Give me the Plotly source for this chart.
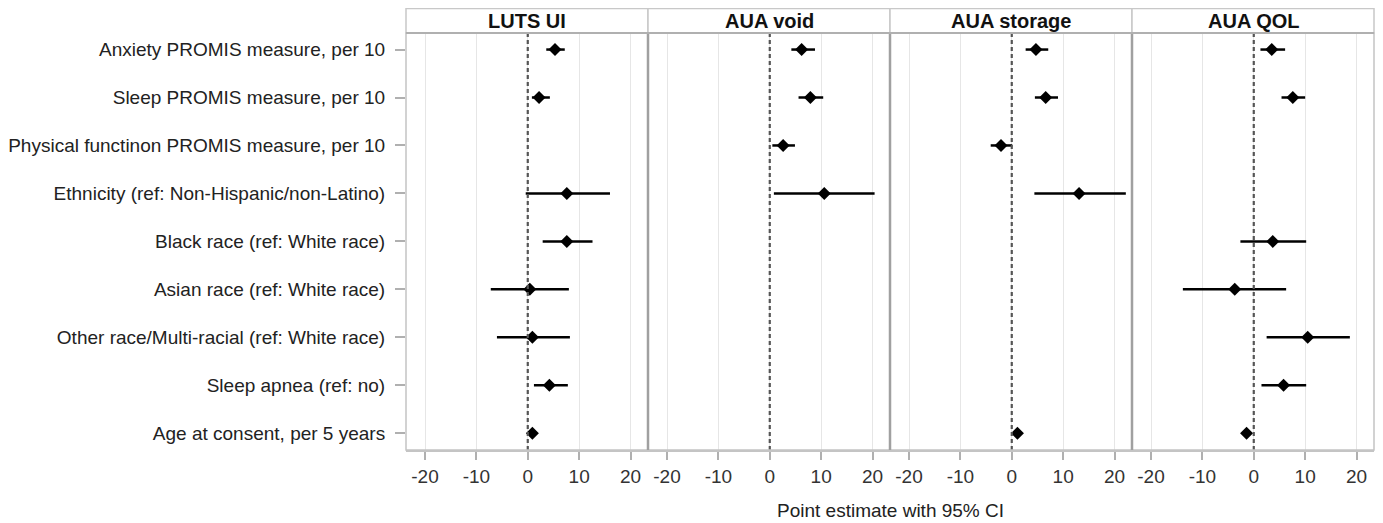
import plotly.graph_objects as go
from plotly.subplots import make_subplots

categories = [
    "Anxiety PROMIS measure, per 10",
    "Sleep PROMIS measure, per 10",
    "Physical functinon PROMIS measure, per 10",
    "Ethnicity (ref: Non-Hispanic/non-Latino)",
    "Black race (ref: White race)",
    "Asian race (ref: White race)",
    "Other race/Multi-racial (ref: White race)",
    "Sleep apnea (ref: no)",
    "Age at consent, per 5 years",
]

panel_titles = ["LUTS UI", "AUA void", "AUA storage", "AUA QOL"]

luts_est = [5.3, 2.2, None, 7.6, 7.6, 0.4, 0.9, 4.2, 0.9]
luts_lo = [3.6, 0.8, None, -0.4, 2.9, -7.2, -6.0, 1.2, 0.4]
luts_hi = [7.2, 4.3, None, 16.0, 12.6, 8.0, 8.2, 7.8, 1.4]

void_est = [6.2, 7.9, 2.6, 10.6, None, None, None, None, None]
void_lo = [4.2, 5.6, 0.5, 0.8, None, None, None, None, None]
void_hi = [8.8, 10.4, 4.9, 20.4, None, None, None, None, None]

stor_est = [4.7, 6.6, -2.1, 13.1, None, None, None, None, 1.1]
stor_lo = [2.7, 4.5, -4.1, 4.4, None, None, None, None, 0.5]
stor_hi = [7.1, 9.0, 0.1, 22.2, None, None, None, None, 1.7]

qol_est = [3.5, 7.6, None, None, 3.7, -3.7, 10.5, 5.8, -1.4]
qol_lo = [1.3, 5.4, None, None, -2.6, -13.8, 2.5, 1.5, -2.0]
qol_hi = [6.1, 10.0, None, None, 10.2, 6.3, 18.7, 10.2, -0.8]

x_ticks = [-20, -10, 0, 10, 20]

panels = [
    (luts_est, luts_lo, luts_hi),
    (void_est, void_lo, void_hi),
    (stor_est, stor_lo, stor_hi),
    (qol_est, qol_lo, qol_hi),
]

FONT = "Arial, Liberation Sans, sans-serif"
fig = make_subplots(rows=1, cols=4, shared_yaxes=True, horizontal_spacing=0)

for i, (est, lo, hi) in enumerate(panels):
    ys, xs, plus, minus = [], [], [], []
    for c, e, l, h in zip(categories, est, lo, hi):
        if e is None:
            continue
        ys.append(c)
        xs.append(e)
        plus.append(h - e)
        minus.append(e - l)
    fig.add_trace(
        go.Scatter(
            x=xs, y=ys, mode="markers",
            marker=dict(symbol="diamond", size=10, color="black"),
            error_x=dict(type="data", array=plus, arrayminus=minus,
                         color="black", thickness=2.5, width=0),
            showlegend=False, hoverinfo="x+y",
        ),
        row=1, col=i + 1,
    )
    fig.update_xaxes(
        range=[-23.7, 23.4], tickvals=x_ticks, ticktext=[str(t) for t in x_ticks],
        showgrid=True, gridcolor="#e6e6e6", gridwidth=1, zeroline=False,
        showline=True, linecolor="#c4c4c4", linewidth=1.5,
        ticks="outside", ticklen=8, tickcolor="#b0b0b0", tickwidth=1.5,
        tickfont=dict(family=FONT, size=19, color="#333333"),
        ticklabelstandoff=0, automargin=False,
        row=1, col=i + 1,
    )
    fig.add_shape(
        type="line", x0=0, x1=0, y0=0, y1=1,
        xref=f"x{'' if i == 0 else i + 1}", yref="paper",
        line=dict(color="#555555", width=2.2, dash="4px,3px"),
        layer="above",
    )

fig.update_yaxes(
    categoryorder="array", categoryarray=categories,
    range=[8.35, -0.345], showgrid=False, zeroline=False, showline=False,
    automargin=False,
)
fig.update_yaxes(
    ticks="outside", ticklen=10, tickcolor="#b0b0b0", tickwidth=1.5,
    tickfont=dict(family=FONT, size=19, color="#222222"),
    ticklabelstandoff=6,
    row=1, col=1,
)

# Outer box and panel separators
fig.add_shape(type="rect", xref="paper", yref="paper", x0=0, x1=1, y0=0, y1=1,
              line=dict(color="#c4c4c4", width=1.5), layer="above")
for k in range(1, 4):
    fig.add_shape(type="line", xref="paper", yref="paper", x0=k / 4, x1=k / 4, y0=0, y1=1,
                  line=dict(color="#a0a0a0", width=2.5), layer="above")

# Header strips
plot_h = 417
hdr = 24.5 / plot_h
for i, t in enumerate(panel_titles):
    fig.add_shape(type="rect", xref="paper", yref="paper",
                  x0=i / 4, x1=(i + 1) / 4, y0=1, y1=1 + hdr,
                  fillcolor="white", line=dict(color="#c8c8c8", width=1.5))
    fig.add_annotation(x=(i + 0.5) / 4, y=1 + hdr / 2, xref="paper", yref="paper",
                       text=f"<b>{t}</b>", showarrow=False,
                       font=dict(family=FONT, size=20, color="#111111"),
                       xanchor="center", yanchor="middle")
fig.add_shape(type="line", xref="paper", yref="paper", x0=0, x1=1, y0=1, y1=1,
              line=dict(color="#b0b0b0", width=2), layer="above")

fig.add_annotation(x=0.5, y=-60 / plot_h, xref="paper", yref="paper",
                   text="Point estimate with 95% CI", showarrow=False,
                   font=dict(family=FONT, size=19, color="#222222"),
                   xanchor="center", yanchor="middle")

fig.update_layout(
    width=1375, height=515,
    margin=dict(l=398, r=9, t=25, b=73),
    paper_bgcolor="white", plot_bgcolor="white",
    font=dict(family=FONT, size=19, color="#222222"),
)

fig.write_html("out.html")
